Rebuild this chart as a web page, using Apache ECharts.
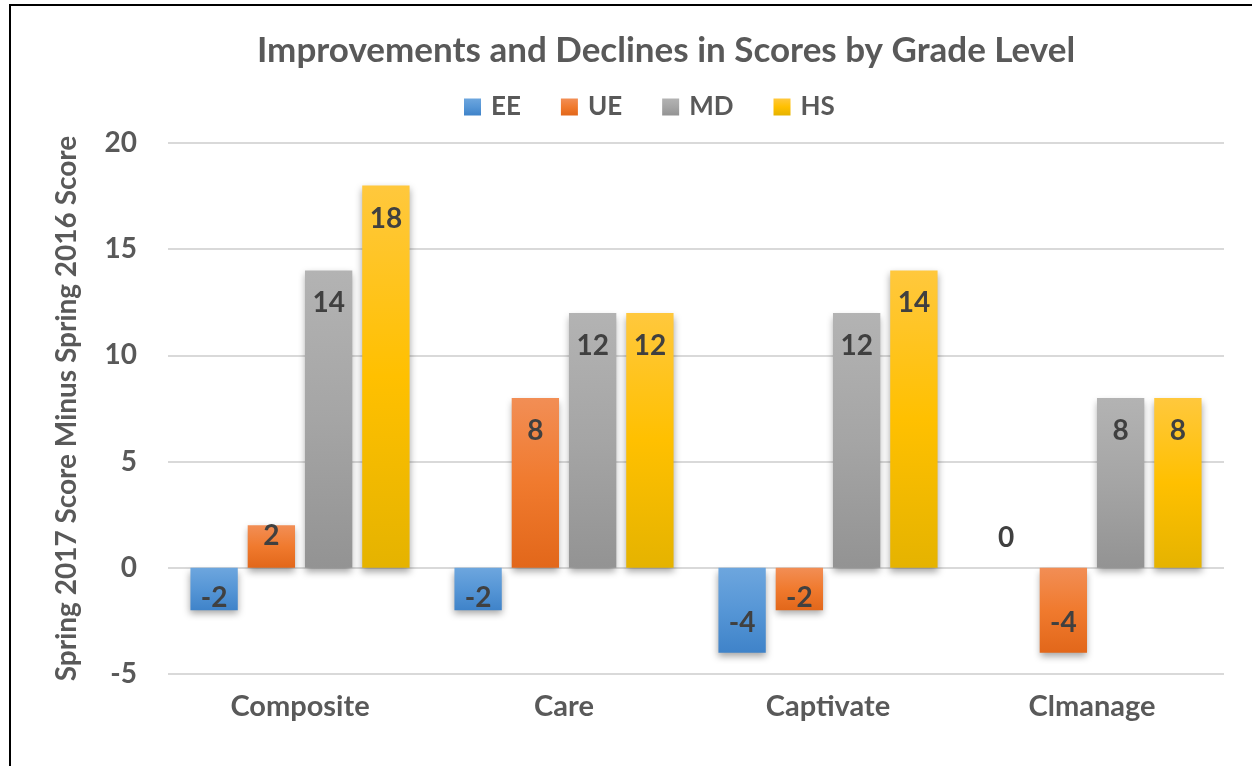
<!DOCTYPE html>
<html>
<head>
<meta charset="utf-8">
<script src="https://cdn.jsdelivr.net/npm/echarts@6/dist/echarts.min.js"></script>
<style>
  html, body { margin: 0; padding: 0; background: #fff; }
  #frame { position: absolute; left: 9px; top: 4px; width: 1243px; height: 762px;
           border-left: 2px solid #000; border-top: 2px solid #000; box-sizing: border-box; }
  #chart { width: 1252px; height: 766px; }
</style>
</head>
<body>
<div id="chart"></div>
<div id="frame"></div>
<script>
const categories = ['Composite', 'Care', 'Captivate', 'Clmanage']
const seriesNames = ['EE', 'UE', 'MD', 'HS']
const eeValues = [-2, -2, -4, 0]
const ueValues = [2, 8, -2, -4]
const mdValues = [14, 12, 12, 8]
const hsValues = [18, 12, 14, 8]
const yTicks = { min: -5, max: 20, interval: 5 }

const font = 'Lato, "Open Sans", sans-serif'

// top/bottom gradient colours like the Excel style
const grad = (top, mid, bottom) => new echarts.graphic.LinearGradient(0, 0, 0, 1, [
  { offset: 0, color: top },
  { offset: 0.5, color: mid },
  { offset: 1, color: bottom }
])

// label sits inside the bar end, closer to the end when the bar is short
const labelFor = (v) => {
  if (v === 0) return { position: 'top', distance: 16 }
  if (v > 0) return { position: 'insideTop', distance: v <= 2 ? -3 : 19 }
  return { position: 'insideBottom', distance: v >= -2 ? -2 : 16 }
}

const makeSeries = (name, values, fill) => ({
  name: name,
  type: 'bar',
  barGap: '21%',
  barCategoryGap: '17%',
  itemStyle: {
    color: fill,
    shadowBlur: 7,
    shadowOffsetY: 4,
    shadowColor: 'rgba(0,0,0,0.35)'
  },
  label: {
    show: true,
    color: '#404040',
    fontFamily: font,
    fontWeight: 'bold',
    fontSize: 28,
    lineHeight: 28
  },
  data: values.map(v => ({ value: v, label: labelFor(v) }))
})

const chart = echarts.init(document.getElementById('chart'))
chart.setOption({
  animation: false,
  textStyle: { fontFamily: font },
  title: {
    text: 'Improvements and Declines in Scores by Grade Level',
    left: 252,
    top: 28,
    textStyle: { fontFamily: font, fontWeight: 'bold', fontSize: 35, color: '#595959' }
  },
  legend: {
    top: 89,
    left: 459,
    itemWidth: 17,
    itemHeight: 17,
    itemGap: 40,
    icon: 'rect',
    textStyle: {
      fontFamily: font, fontWeight: 'bold', fontSize: 26, color: '#595959',
      padding: [0, 0, 0, 5]
    },
    data: seriesNames
  },
  grid: { left: 168, right: 28, top: 143, bottom: 92 },
  xAxis: {
    type: 'category',
    data: categories,
    axisLine: { show: false },
    axisTick: { show: false },
    axisLabel: {
      margin: 18,
      fontFamily: font,
      fontWeight: 'bold',
      fontSize: 29,
      color: '#595959'
    }
  },
  yAxis: {
    type: 'value',
    min: yTicks.min,
    max: yTicks.max,
    interval: yTicks.interval,
    name: 'Spring 2017 Score Minus Spring 2016 Score',
    nameLocation: 'middle',
    nameGap: 87,
    nameTextStyle: { fontFamily: font, fontWeight: 'bold', fontSize: 28, color: '#595959' },
    axisLine: { show: false },
    axisTick: { show: false },
    axisLabel: {
      margin: 31,
      fontFamily: font,
      fontWeight: 'bold',
      fontSize: 28,
      color: '#595959'
    },
    splitLine: { lineStyle: { color: '#d9d9d9', width: 2 } }
  },
  series: [
    makeSeries('EE', eeValues, grad('#6da6de', '#5696d6', '#3f83c9')),
    makeSeries('UE', ueValues, grad('#f28e55', '#f07a2e', '#e2671a')),
    makeSeries('MD', mdValues, grad('#b3b3b3', '#a5a5a5', '#939393')),
    makeSeries('HS', hsValues, grad('#ffc83d', '#ffc000', '#e5b300'))
  ]
})
</script>
</body>
</html>
